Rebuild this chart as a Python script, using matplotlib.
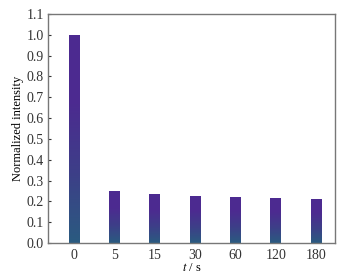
import numpy as np
import matplotlib
matplotlib.use("Agg")
import matplotlib.pyplot as plt
from matplotlib.colors import LinearSegmentedColormap

categories = ["0", "5", "15", "30", "60", "120", "180"]
values = [1.0, 0.248, 0.235, 0.226, 0.222, 0.217, 0.212]
yticks = [0.0, 0.1, 0.2, 0.3, 0.4, 0.5, 0.6, 0.7, 0.8, 0.9, 1.0, 1.1]

plt.rcParams['font.family'] = ['Liberation Serif', 'DejaVu Serif']
plt.rcParams['mathtext.fontset'] = 'stix'

fig = plt.figure(figsize=(3.51, 2.80), dpi=100)
ax = fig.add_axes([48/351, 1 - 243/280, (335-48)/351, (243-14)/280])

cmap = LinearSegmentedColormap.from_list("g", ["#2a5b80", "#3d3f88", "#4c2b90", "#4d2a91"])
x = np.arange(len(categories))
w = 0.27
bars = ax.bar(x, values, width=w, color="none", edgecolor="none")
grad = np.linspace(0, 1, 256).reshape(-1, 1)
for b in bars:
    x0, y0 = b.get_x(), b.get_y()
    x1, y1 = x0 + b.get_width(), y0 + b.get_height()
    im = ax.imshow(grad, extent=[x0, x1, y0, y1], origin="lower", aspect="auto",
                   cmap=cmap, zorder=2)
    im.set_clip_path(b)

ax.set_xlim(-0.65, 6.47)
ax.set_ylim(0, 1.1)
ax.set_xticks(x)
ax.set_xticklabels(categories)
ax.set_yticks(yticks)
ax.set_yticklabels([f"{v:.1f}" for v in yticks])
ax.tick_params(axis='both', direction='in', labelsize=10, colors='#333333', length=2.5)
ax.tick_params(axis='y', pad=3)
ax.tick_params(axis='x', length=0, pad=4)
for s in ax.spines.values():
    s.set_color('#777777')
    s.set_linewidth(1.0)
ax.set_xlabel(r"$t$ / s", fontsize=9, labelpad=0)
ax.set_ylabel("Normalized intensity", fontsize=9, labelpad=2)
fig.savefig("out.png", dpi=100)
